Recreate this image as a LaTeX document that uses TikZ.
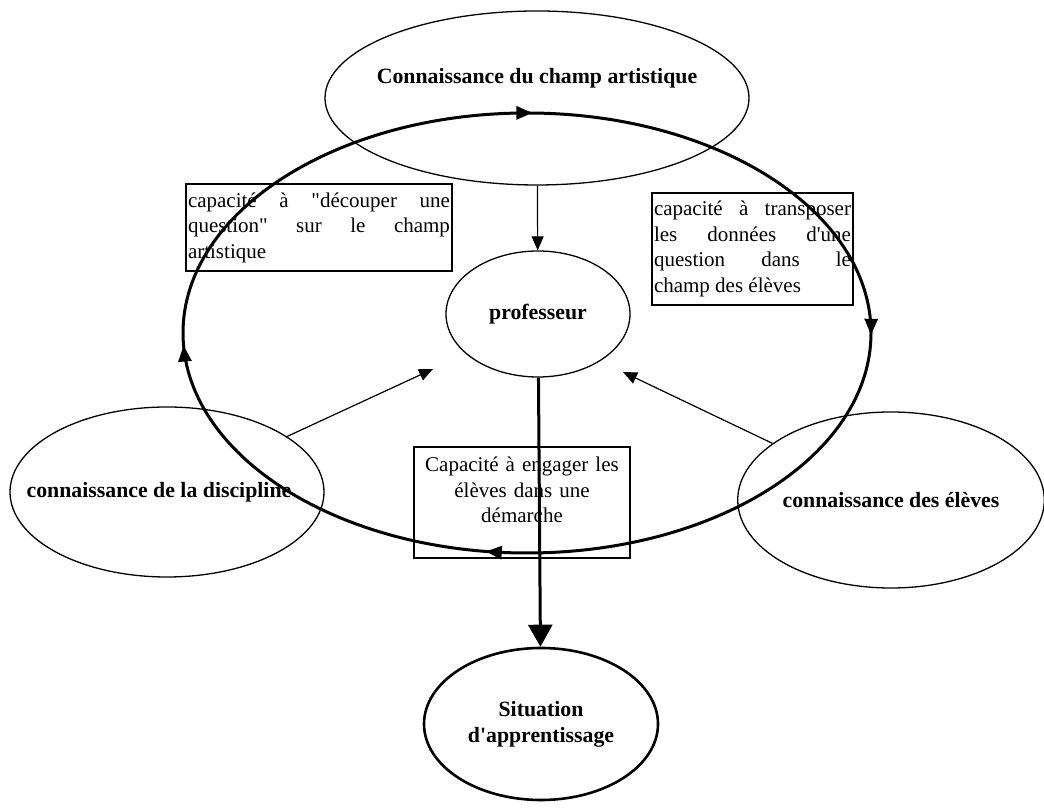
\documentclass[tikz,border=0pt]{standalone}
\usepackage{fontspec}
\setmainfont{Liberation Serif}
\usetikzlibrary{arrows.meta, shapes.geometric, decorations.markings, positioning}

\begin{document}
\begin{tikzpicture}[
  x=1pt, y=1pt,
  every node/.style={font=\fontsize{21}{25.5}\selectfont},
  titre/.style={font=\fontsize{21.8}{26}\selectfont\bfseries},
  oval/.style={ellipse, draw, line width=1.3pt, inner sep=0pt, titre},
  box/.style={rectangle, draw, line width=1.3pt, inner xsep=2pt, inner ysep=2pt},
  arrow/.style={-{Triangle[length=14pt, width=12pt]}, line width=1.2pt},
  thickarrow/.style={-{Triangle[length=22pt, width=24pt]}, line width=3pt},
  cycle/.style={line width=3pt, postaction={decorate}, decoration={markings,
      mark=at position 0.247 with {\arrowreversed{Triangle[length=16pt, width=13pt]}},
      mark=at position 0.507 with {\arrowreversed{Triangle[length=16pt, width=13pt]}},
      mark=at position 0.727 with {\arrowreversed{Triangle[length=16pt, width=13pt]}},
      mark=at position 0.999 with {\arrowreversed{Triangle[length=16pt, width=13pt]}}}}
]
  \useasboundingbox (0,0) rectangle (1044,808);

  % les quatre connaissances et le professeur
  \node[oval, minimum width=424pt, minimum height=174pt,
        label={[titre, yshift=20pt]center:Connaissance du champ artistique}] (champ) at (537,710) {};
  \node[oval, minimum width=184pt, minimum height=126pt] (professeur) at (538,494) {professeur};
  \node[oval, minimum width=314pt, minimum height=170pt,
        label={[titre, xshift=-8pt]center:connaissance de la discipline}] (discipline) at (167,316) {};
  \node[oval, minimum width=304pt, minimum height=176pt] (eleves) at (891,308) {connaissance des élèves};
  \node[oval, line width=2.6pt, minimum width=234pt, minimum height=152pt, align=center] (situation) at (541,84) {Situation\\d\textquotesingle apprentissage};

  % les capacites
  \node[box, text width=262pt, minimum height=87pt, align=justify] (decoupe) at (319,580.5)
    {capacité à \textquotedbl découper une\linebreak question\textquotedbl{} sur le champ\linebreak artistique};
  \node[box, text width=197pt, minimum height=112pt, align=justify] (transpose) at (752.5,559)
    {capacité à transposer\linebreak les données d\textquotesingle une\linebreak question dans le\linebreak champ des élèves};
  \node[box, text width=212pt, minimum height=111pt, text depth=76pt, align=center] (demarche) at (522,305.5)
    {Capacité à engager les\\élèves dans une\\démarche};

  % le cycle
  \draw[cycle] (527,475) ellipse [x radius=344, y radius=220];

  \coordinate (versprofG) at (433,439);
  \coordinate (versprofD) at (623,436);

  \draw[arrow] (champ) -- (professeur);
  \draw[arrow] (discipline) -- (versprofG);
  \draw[arrow] (eleves) -- (versprofD);
  \draw[thickarrow] (professeur) -- (situation);
\end{tikzpicture}
\end{document}
